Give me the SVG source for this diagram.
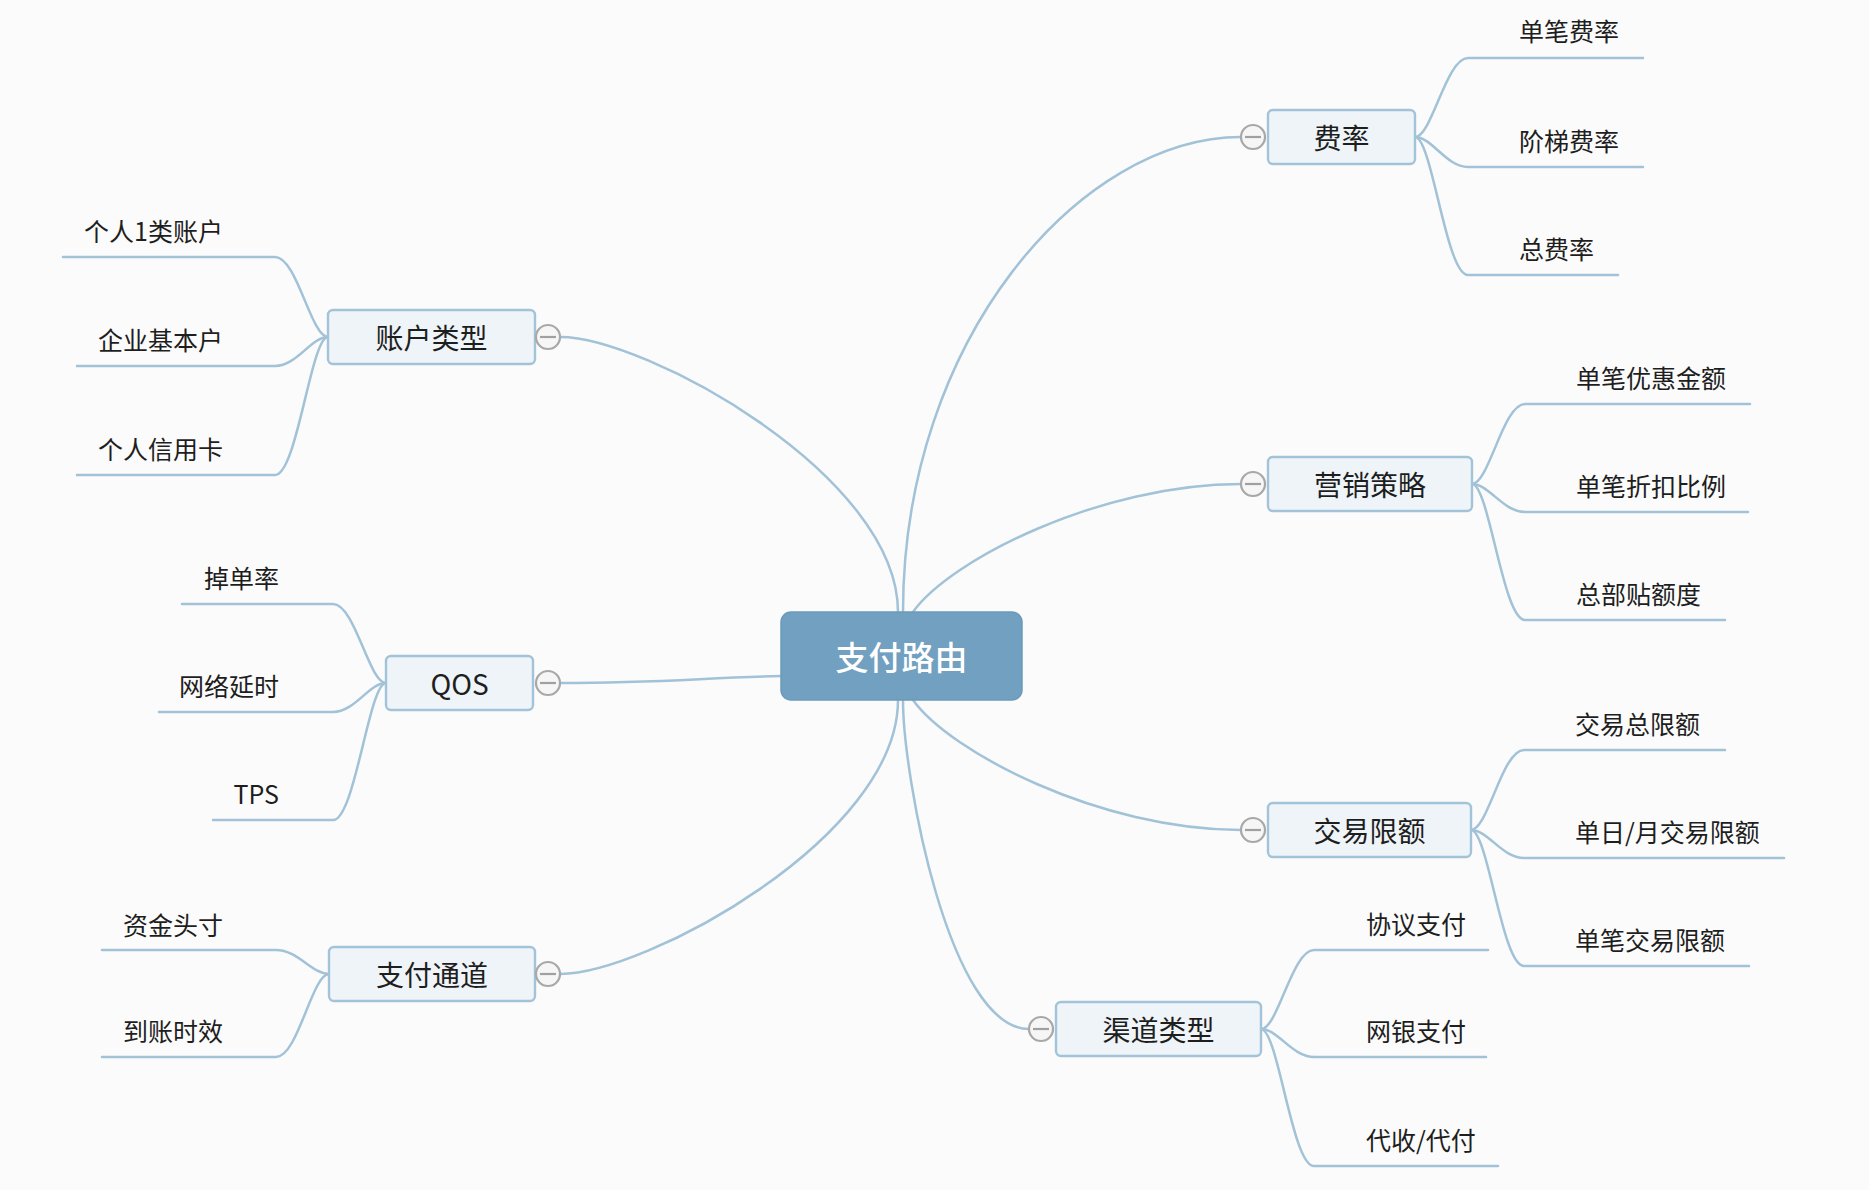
<svg xmlns="http://www.w3.org/2000/svg" width="1869" height="1190" viewBox="0 0 1869 1190">
<style>
.bg{fill:#fbfbfb}
.ln{fill:none;stroke:#a2c2d8;stroke-width:2.5;stroke-linecap:round}
.topic{fill:#eef4f8;stroke:#a3c3d9;stroke-width:2.4}
.root{fill:#72a0c0;stroke:#6b9aba;stroke-width:1.5}
.tt{font-family:"Noto Sans CJK SC","Noto Sans",sans-serif;font-size:28px;fill:#1e1e1e;text-anchor:middle;dominant-baseline:central}
.rt{font-family:"Noto Sans CJK SC","Noto Sans",sans-serif;font-size:33px;fill:#fff;text-anchor:middle;dominant-baseline:central;font-weight:500}
.ct{font-family:"Noto Sans CJK SC","Noto Sans",sans-serif;font-size:25px;fill:#1e1e1e;dominant-baseline:central}
.ce{text-anchor:end}
.tg{fill:#f6f6f6;stroke:#a8a8a8;stroke-width:2.2}
.tgl{stroke:#a0a0a0;stroke-width:2.2}
</style>
<defs>
<g id="toggle"><circle class="tg" cx="0" cy="0" r="12"/><line class="tgl" x1="-8" y1="0" x2="8" y2="0"/></g>
</defs>
<rect class="bg" x="0" y="0" width="1869" height="1190"/>
<g id="connectors">
<path class="ln" d="M903 612 C903 339 1081 137 1241 137"/>
<path class="ln" d="M913 612 C950 560 1100 484 1241 484"/>
<path class="ln" d="M913 700 C950 752 1100 830 1241 830"/>
<path class="ln" d="M903 700 C903 776 949 1029 1029 1029"/>
<path class="ln" d="M560 337 C645 337 898 475 898 612"/>
<path class="ln" d="M560 683 C660 683 700 678 781 676"/>
<path class="ln" d="M560 974 C645 974 898 837 898 700"/>
<path class="ln" d="M1415 137 C1432 137 1446 58 1468 58 H1643"/>
<path class="ln" d="M1415 137 C1432 137 1446 167 1468 167 H1643"/>
<path class="ln" d="M1415 137 C1432 137 1446 275 1468 275 H1618"/>
<path class="ln" d="M1472 484 C1489 484 1503 404 1525 404 H1750"/>
<path class="ln" d="M1472 484 C1489 484 1503 512 1525 512 H1748"/>
<path class="ln" d="M1472 484 C1489 484 1503 620 1525 620 H1725"/>
<path class="ln" d="M1471 830 C1488 830 1502 750 1524 750 H1725"/>
<path class="ln" d="M1471 830 C1488 830 1502 858 1524 858 H1784"/>
<path class="ln" d="M1471 830 C1488 830 1502 966 1524 966 H1749"/>
<path class="ln" d="M1261 1029 C1278 1029 1292 950 1314 950 H1488"/>
<path class="ln" d="M1261 1029 C1278 1029 1292 1057 1314 1057 H1486"/>
<path class="ln" d="M1261 1029 C1278 1029 1292 1166 1314 1166 H1498"/>
<path class="ln" d="M328 337 C311 337 297 257 275 257 H63"/>
<path class="ln" d="M328 337 C311 337 297 366 275 366 H77"/>
<path class="ln" d="M328 337 C311 337 297 475 275 475 H77"/>
<path class="ln" d="M386 683 C369 683 355 604 333 604 H182"/>
<path class="ln" d="M386 683 C369 683 355 712 333 712 H159"/>
<path class="ln" d="M386 683 C369 683 355 820 333 820 H213"/>
<path class="ln" d="M329 974 C312 974 298 950 276 950 H102"/>
<path class="ln" d="M329 974 C312 974 298 1057 276 1057 H102"/>
</g>
<g id="root"><rect class="root" x="781" y="612" width="241" height="88" rx="10"/><text class="rt" x="901.5" y="656">支付路由</text></g>
<g id="n-feilv"><rect class="topic" x="1268" y="110" width="147" height="54" rx="5"/><text class="tt" x="1341.5" y="137">费率</text><use href="#toggle" x="1253" y="137"/></g>
<g id="n-yingxiao"><rect class="topic" x="1268" y="457" width="204" height="54" rx="5"/><text class="tt" x="1370" y="484">营销策略</text><use href="#toggle" x="1253" y="484"/></g>
<g id="n-xiane"><rect class="topic" x="1268" y="803" width="203" height="54" rx="5"/><text class="tt" x="1369.5" y="830">交易限额</text><use href="#toggle" x="1253" y="830"/></g>
<g id="n-qudao"><rect class="topic" x="1056" y="1002" width="205" height="54" rx="5"/><text class="tt" x="1158.5" y="1029">渠道类型</text><use href="#toggle" x="1041" y="1029"/></g>
<g id="n-zhanghu"><rect class="topic" x="328" y="310" width="207" height="54" rx="5"/><text class="tt" x="431.5" y="337">账户类型</text><use href="#toggle" x="548" y="337"/></g>
<g id="n-qos"><rect class="topic" x="386" y="656" width="147" height="54" rx="5"/><text class="tt" x="459.5" y="683">QOS</text><use href="#toggle" x="548" y="683"/></g>
<g id="n-tongdao"><rect class="topic" x="329" y="947" width="206" height="54" rx="5"/><text class="tt" x="432" y="974">支付通道</text><use href="#toggle" x="548" y="974"/></g>
<g id="c-feilv-1"><text class="ct" x="1519" y="30">单笔费率</text></g>
<g id="c-feilv-2"><text class="ct" x="1519" y="140">阶梯费率</text></g>
<g id="c-feilv-3"><text class="ct" x="1519" y="248">总费率</text></g>
<g id="c-yx-1"><text class="ct" x="1576" y="377">单笔优惠金额</text></g>
<g id="c-yx-2"><text class="ct" x="1576" y="485">单笔折扣比例</text></g>
<g id="c-yx-3"><text class="ct" x="1576" y="593">总部贴额度</text></g>
<g id="c-xe-1"><text class="ct" x="1575" y="723">交易总限额</text></g>
<g id="c-xe-2"><text class="ct" x="1575" y="831">单日/月交易限额</text></g>
<g id="c-xe-3"><text class="ct" x="1575" y="939">单笔交易限额</text></g>
<g id="c-qd-1"><text class="ct" x="1366" y="923">协议支付</text></g>
<g id="c-qd-2"><text class="ct" x="1366" y="1030">网银支付</text></g>
<g id="c-qd-3"><text class="ct" x="1366" y="1139">代收/代付</text></g>
<g id="c-zh-1"><text class="ct ce" x="223" y="230">个人1类账户</text></g>
<g id="c-zh-2"><text class="ct ce" x="223" y="339">企业基本户</text></g>
<g id="c-zh-3"><text class="ct ce" x="223" y="448">个人信用卡</text></g>
<g id="c-qos-1"><text class="ct ce" x="279" y="577">掉单率</text></g>
<g id="c-qos-2"><text class="ct ce" x="279" y="685">网络延时</text></g>
<g id="c-qos-3"><text class="ct ce" x="279" y="793">TPS</text></g>
<g id="c-td-1"><text class="ct ce" x="223" y="924">资金头寸</text></g>
<g id="c-td-2"><text class="ct ce" x="223" y="1030">到账时效</text></g>
</svg>
